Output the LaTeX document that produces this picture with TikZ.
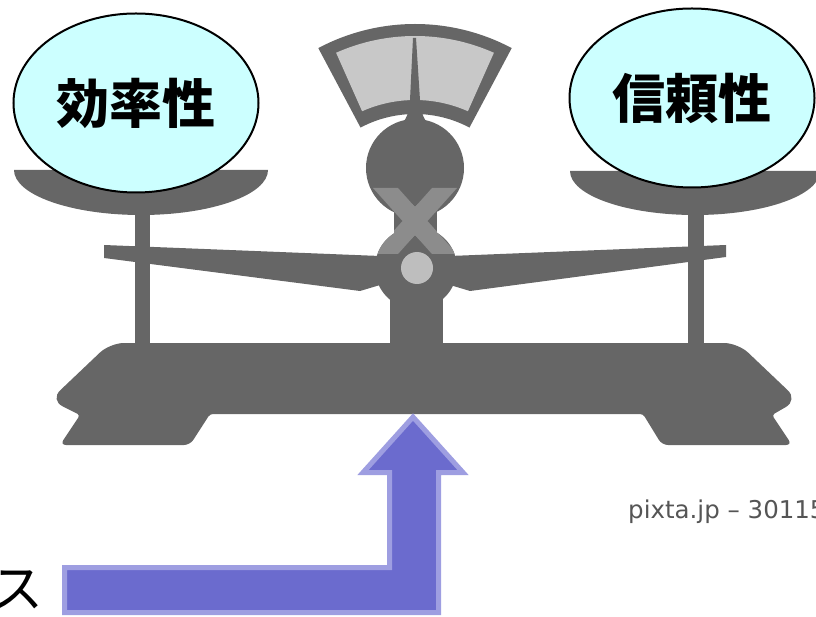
\documentclass[tikz,border=0pt]{standalone}
\usepackage{fontspec}
\newfontfamily\jp{Noto Sans CJK JP}
\newfontfamily\wmfont{DejaVu Sans}
\usetikzlibrary{shapes.geometric,calc}
\definecolor{scalegray}{RGB}{102,102,102}
\definecolor{dialgray}{RGB}{200,200,200}
\definecolor{xgray}{RGB}{140,140,140}
\definecolor{bubble}{RGB}{204,255,255}
\definecolor{arrowfill}{RGB}{107,107,206}
\definecolor{arrowedge}{RGB}{158,158,225}
\tikzset{
  metal/.style={fill=scalegray},
  bubblenode/.style={ellipse, draw=black, line width=2pt, fill=bubble,
    minimum width=245pt, minimum height=179pt, inner sep=0pt,
    font=\jp\bfseries\fontsize{53}{53}\selectfont},
  bigarrow/.style={fill=arrowfill, draw=arrowedge, line width=5pt, line join=miter},
}
% the light cross, as two bars
\newcommand\crossbars{%
  \fill[xgray] (373,188) -- (398,188) -- (457,254) -- (432,254) -- cycle;
  \fill[xgray] (432,188) -- (457,188) -- (398,254) -- (373,254) -- cycle;}
\begin{document}
\begin{tikzpicture}[x=1pt,y=-1pt]
\useasboundingbox (0,0) rectangle (816,617);

% dial of the scale
\coordinate (gc) at (415,230);
\fill[metal] ($(gc)+(-62:206)$) arc[start angle=-62,end angle=-118,radius=206]
  -- ($(gc)+(-118:116)$) arc[start angle=-118,end angle=-62,radius=116] -- cycle;
\fill[dialgray] ($(gc)+(-66:194)$) arc[start angle=-66,end angle=-114,radius=194]
  -- ($(gc)+(-114:130)$) arc[start angle=-114,end angle=-66,radius=130] -- cycle;
% needle
\fill[metal] (398,128) .. controls (407,120) and (409,112) .. (410,100)
  -- (413,38) -- (416,38) -- (420,100) .. controls (421,112) and (423,120) .. (432,128) -- cycle;

% body: ball, waist, hub and column
\fill[metal] (415,168) circle[radius=49];
\fill[metal] (394,205) rectangle (437,240);
\fill[metal] (416,268) circle[radius=41];
\fill[metal] (390,280) rectangle (443,350);

% beam
\fill[metal] (104,245) -- (380,256) -- (450,256) -- (726,245) -- (726,257)
  -- (470,291) -- (450,285) -- (380,285) -- (360,291) -- (104,258) -- cycle;

% pans and their stems
\fill[metal] (135,200) rectangle (150,350);
\fill[metal] (688,200) rectangle (704,350);
\fill[metal] (14,170) -- (268,170) arc[start angle=0,end angle=180,x radius=127,y radius=45] -- cycle;
\fill[metal] (570,171) -- (820,171) arc[start angle=0,end angle=180,x radius=125,y radius=44] -- cycle;

% base
\fill[metal] [rounded corners=14pt] (420,343) -- (738,343) -- (798,400)
  [rounded corners=3pt] -- (772,415)
  [rounded corners=6pt] -- (792,445) -- (662,445)
  [rounded corners=3pt] -- (643,414) -- (210,414)
  [rounded corners=6pt] -- (190,445) -- (60,445)
  [rounded corners=3pt] -- (80,415)
  [rounded corners=14pt] -- (50,400) -- (110,343) -- cycle;

% lighter cross laid over the dark body
\begin{scope}
  \clip (415,168) circle[radius=49];
  \crossbars
\end{scope}
\begin{scope}
  \clip (394,205) rectangle (437,240);
  \crossbars
\end{scope}
\begin{scope}
  \clip (416,268) circle[radius=41];
  \crossbars
\end{scope}
% pivot
\fill[dialgray!95!black] (417,268) circle[radius=16];

% labels on the pans
\node[bubblenode] (eff) at (136,103) {効率性};
\node[bubblenode] (rel) at (692,98) {信頼性};

% arrow pushing the scale from below
\coordinate (tip) at (413,417);
\draw[bigarrow] (64.5,567.5) -- (389.5,567.5) -- (389.5,472.5) -- (363,472.5)
  -- (tip) -- (463,472.5) -- (438.5,472.5) -- (438.5,612.5) -- (64.5,612.5) -- cycle;

% text at the lower left and credit line
\node[anchor=east, inner sep=0pt, font=\jp\fontsize{52}{52}\selectfont] (src) at (44,590) {ス};
\node[anchor=base west, inner sep=0pt, text={rgb,255:red,85;green,85;blue,85},
  font=\wmfont\fontsize{24.5}{24.5}\selectfont] (credit) at (628,518) {pixta.jp – 30115};
\end{tikzpicture}
\end{document}
